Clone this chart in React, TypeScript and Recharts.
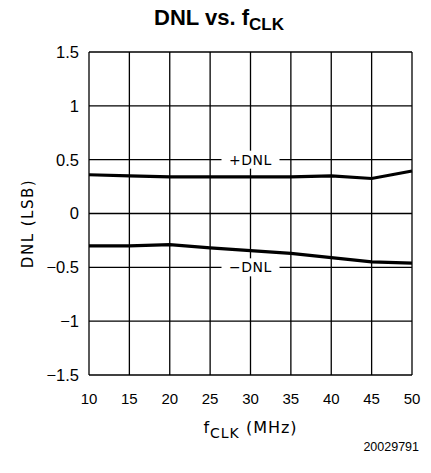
import React from 'react';
import {
  LineChart, Line, XAxis, YAxis, CartesianGrid, ReferenceDot, Label
} from 'recharts';

const FREQ = [10, 15, 20, 25, 30, 35, 40, 45, 50];
const POS_DNL = [0.36, 0.35, 0.34, 0.34, 0.34, 0.34, 0.35, 0.325, 0.395];
const NEG_DNL = [-0.3, -0.3, -0.29, -0.32, -0.345, -0.37, -0.41, -0.45, -0.46];
const Y_TICKS = [-1.5, -1, -0.5, 0, 0.5, 1, 1.5];

const chartData = FREQ.map((f, i) => ({ f, pos: POS_DNL[i], neg: NEG_DNL[i] }));

const PLOT_FONT = '"DejaVu Sans", sans-serif';
const NUM_FONT = '"Liberation Sans", Arial, sans-serif';

// white box behind the curve label so the grid line is interrupted
const TagLabel = ({ viewBox, text }: any) => {
  const cx = viewBox.x + viewBox.width / 2;
  const cy = viewBox.y + viewBox.height / 2;
  return (
    <g>
      <rect x={cx - 29} y={cy - 9} width={58} height={18} fill="#fff" />
      <text x={cx} y={cy} dy={5} textAnchor="middle" fontFamily={PLOT_FONT} fontSize={14} letterSpacing={0.5} fill="#000">{text}</text>
    </g>
  );
};

const fmtY = (v: number) => (v < 0 ? '\u2212' + Math.abs(v) : String(v));

export default function App() {
  return (
    <div style={{ position: 'absolute', left: 0, top: 0, width: 431, height: 473, background: '#fff' }}>
      <div style={{ position: 'absolute', left: 0, width: 438, top: 5, textAlign: 'center', fontFamily: NUM_FONT, fontWeight: 'bold', fontSize: 22, color: '#000' }}>
        DNL vs. f<sub style={{ fontSize: 17 }}>CLK</sub>
      </div>
      <LineChart width={431} height={473} data={chartData} margin={{ top: 52, right: 19, bottom: 68, left: 0 }}>
        <CartesianGrid stroke="#000" strokeWidth={1.3} horizontalValues={Y_TICKS} verticalValues={FREQ} />
        <XAxis
          dataKey="f" type="number" domain={[10, 50]} ticks={FREQ}
          axisLine={false} tickLine={false} tickMargin={12}
          tick={{ fill: '#000', fontSize: 15, fontFamily: NUM_FONT }}
        >
          <Label position="insideBottom" offset={0} content={({ viewBox }: any) => (
            <text x={viewBox.x + viewBox.width / 2} y={viewBox.y + 58} textAnchor="middle" fontFamily={PLOT_FONT} fontSize={16} letterSpacing={1} fill="#000">
              f<tspan fontSize={14} dy={5}>CLK</tspan><tspan dy={-5}> (MHz)</tspan>
            </text>
          )} />
        </XAxis>
        <YAxis
          type="number" domain={[-1.5, 1.5]} ticks={Y_TICKS} width={89}
          axisLine={false} tickLine={false} tickMargin={4} tickFormatter={fmtY}
          tick={{ fill: '#000', fontSize: 16.5, fontFamily: NUM_FONT }}
        >
          <Label content={({ viewBox }: any) => {
            const x = viewBox.x + 28;
            const y = viewBox.y + viewBox.height / 2 + 10;
            return (
              <text x={x} y={y} transform={`rotate(-90 ${x} ${y})`} textAnchor="middle" dominantBaseline="middle" fontFamily={PLOT_FONT} fontSize={15} letterSpacing={1.5} fill="#000">DNL (LSB)</text>
            );
          }} />
        </YAxis>
        <Line dataKey="pos" stroke="#000" strokeWidth={3.2} dot={false} isAnimationActive={false} />
        <Line dataKey="neg" stroke="#000" strokeWidth={3.2} dot={false} isAnimationActive={false} />
        <ReferenceDot x={30} y={0.5} r={0} label={<TagLabel text="+DNL" />} />
        <ReferenceDot x={30} y={-0.5} r={0} label={<TagLabel text={'\u2212DNL'} />} />
      </LineChart>
      <div style={{ position: 'absolute', right: 12, top: 440, fontFamily: NUM_FONT, fontSize: 12.5, color: '#000' }}>20029791</div>
    </div>
  );
}
